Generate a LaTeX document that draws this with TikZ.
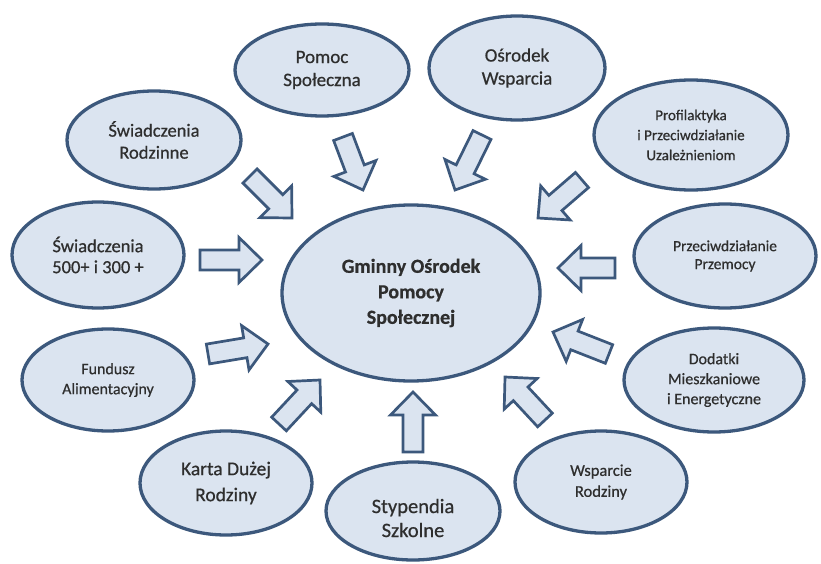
\documentclass[tikz,border=0pt]{standalone}
\usepackage{fontspec}
\setmainfont{Carlito}[FakeBold=0.6]
\usetikzlibrary{calc,shapes.geometric}
\definecolor{fillblue}{HTML}{DBE4F0}
\definecolor{edgeblue}{HTML}{3C587C}
\definecolor{txtgray}{HTML}{2E2E2E}
\def\arShaft{10pt}
\def\arHead{22.5pt}
\def\arHeadLen{23pt}
\tikzset{
  bubble/.style={ellipse, draw=edgeblue, fill=fillblue, line width=3.3pt,
    inner sep=0pt, align=center, text=txtgray},
  btext/.style={align=center, text=txtgray, inner sep=0pt},
  blockarrow/.style={draw=edgeblue, fill=fillblue, line width=2.7pt, line join=miter,
    to path={let \p1=(\tikztostart), \p2=(\tikztotarget),
      \n1={atan2(\y2-\y1,\x2-\x1)},
      \n2={veclen(\x2-\x1,\y2-\y1)-\arHeadLen} in
      ($(\p1)+({\n1+90}:\arShaft)$)
      -- ($(\p1)+({\n1}:\n2)+({\n1+90}:\arShaft)$)
      -- ($(\p1)+({\n1}:\n2)+({\n1+90}:\arHead)$)
      -- (\p2)
      -- ($(\p1)+({\n1}:\n2)+({\n1-90}:\arHead)$)
      -- ($(\p1)+({\n1}:\n2)+({\n1-90}:\arShaft)$)
      -- ($(\p1)+({\n1-90}:\arShaft)$)
      -- cycle}}
}
\begin{document}
\begin{tikzpicture}[x=1pt,y=-1pt]
\fill[white] (0,0) rectangle (821,564);
\useasboundingbox (0,0) rectangle (821,564);

% central ellipse
\node[bubble, minimum width=258pt, minimum height=176pt,
  font=\fontsize{20}{25.5}\selectfont\bfseries] (center) at (411,293)
  {Gminny Ośrodek\\Pomocy\\Społecznej};

% outer ellipses
\node[bubble, minimum width=174pt, minimum height=92pt,
  font=\fontsize{19}{23}\selectfont] (pomoc) at (322,70) {Pomoc\\Społeczna};
\node[bubble, minimum width=176pt, minimum height=104pt,
  font=\fontsize{19}{23}\selectfont] (osrodek) at (517,68) {Ośrodek\\Wsparcia};
\node[bubble, minimum width=174pt, minimum height=98pt,
  font=\fontsize{18.5}{22}\selectfont] (rodzinne) at (154,140) {Świadczenia\\Rodzinne};
\node[bubble, minimum width=194pt, minimum height=110pt,
  font=\fontsize{15}{20}\selectfont] (profil) at (691,135)
  {Profilaktyka\\i Przeciwdziałanie\\Uzależnieniom};
\node[bubble, minimum width=172pt, minimum height=106pt,
  font=\fontsize{18.5}{21}\selectfont] (piecset) at (98,255) {Świadczenia\\500+ i 300 +};
\node[bubble, minimum width=182pt, minimum height=104pt,
  font=\fontsize{15.5}{18}\selectfont] (przemoc) at (725,256) {Przeciwdziałanie\\Przemocy};
\node[bubble, minimum width=172pt, minimum height=102pt,
  font=\fontsize{16}{20}\selectfont] (fundusz) at (108,380) {Fundusz\\Alimentacyjny};
\node[bubble, minimum width=180pt, minimum height=104pt,
  font=\fontsize{16}{20}\selectfont] (dodatki) at (714,380)
  {Dodatki\\Mieszkaniowe\\i Energetyczne};
\node[bubble, minimum width=172pt, minimum height=104pt,
  font=\fontsize{19.5}{26}\selectfont] (karta) at (226,483) {Karta Dużej\\Rodziny};
\node[bubble, minimum width=174pt, minimum height=98pt] (styp) at (413,511) {};
\node[btext, font=\fontsize{20.5}{24}\selectfont] (stypT) at (413,518) {Stypendia\\Szkolne};
\node[bubble, minimum width=172pt, minimum height=102pt,
  font=\fontsize{16.5}{21}\selectfont] (wsparcie) at (601,482) {Wsparcie\\Rodziny};

% arrow end points
\coordinate (t1) at (250,176);  \coordinate (h1) at (292,218);
\coordinate (t2) at (343,137);  \coordinate (h2) at (363,190);
\coordinate (t3) at (482,135);  \coordinate (h3) at (455,190);
\coordinate (t4) at (582,180);  \coordinate (h4) at (538,218);
\coordinate (t5) at (615,268);  \coordinate (h5) at (558,268);
\coordinate (t6) at (609,354);  \coordinate (h6) at (553,332);
\coordinate (t7) at (545,420);  \coordinate (h7) at (505,377);
\coordinate (t8) at (413,452);  \coordinate (h8) at (413,392);
\coordinate (t9) at (279,424);  \coordinate (h9) at (320,380);
\coordinate (t10) at (208,354); \coordinate (h10) at (268,344);
\coordinate (t11) at (200,260); \coordinate (h11) at (262,260);

\foreach \k in {1,...,11}{
  \draw[blockarrow] (t\k) to (h\k);
}
\end{tikzpicture}
\end{document}
